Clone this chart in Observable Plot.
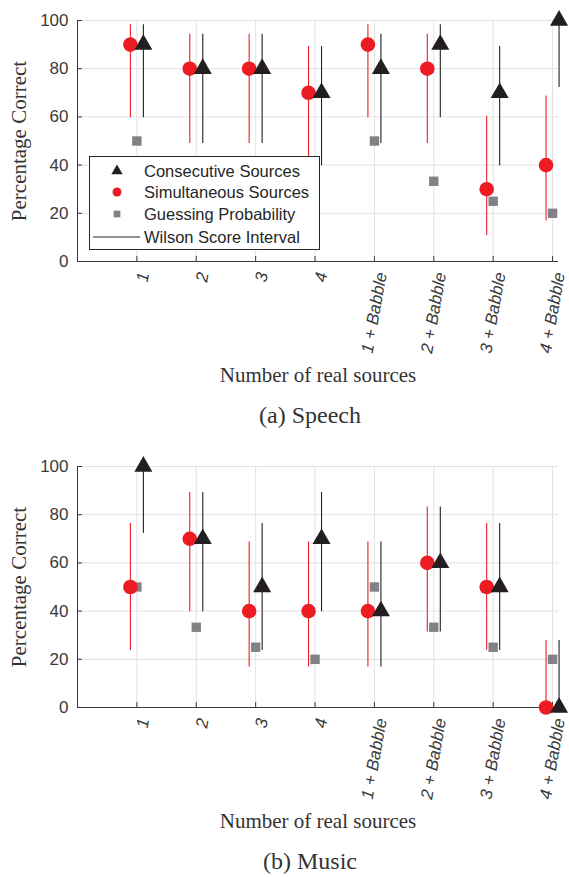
<!DOCTYPE html>
<html><head><meta charset="utf-8">
<script src="https://cdn.jsdelivr.net/npm/d3@7"></script>
<script src="https://cdn.jsdelivr.net/npm/@observablehq/plot@0.6"></script>
<style>
html,body{margin:0;padding:0;background:#fff;overflow:hidden;}
.panel{position:relative;width:569px;overflow:hidden;}
.panel svg.plot{display:block;}
.caption{position:absolute;left:310px;transform:translateX(-50%);font-family:"Liberation Serif","Times New Roman",serif;font-size:24px;color:#333;white-space:nowrap;line-height:30px;}
.legend{position:absolute;left:89px;top:156px;width:229px;height:92px;border:1px solid #262626;background:#fff;}
.legend svg{position:absolute;left:0;top:0;}
</style></head><body>
<div id="root"></div>
<script>
// ---- data ----
const categories = ["1", "2", "3", "4", "1 + Babble", "2 + Babble", "3 + Babble", "4 + Babble"];
const xPositions = [1, 2, 3, 4, 5, 6, 7, 8];
const yTicks = [0, 20, 40, 60, 80, 100];
const guessing = [50, 33.3, 25, 20, 50, 33.3, 25, 20];

const speechSim = [90, 80, 80, 70, 90, 80, 30, 40];
const speechSimLow = [59.6, 49.0, 49.0, 39.7, 59.6, 49.0, 10.8, 16.8];
const speechSimHigh = [98.2, 94.3, 94.3, 89.2, 98.2, 94.3, 60.3, 68.7];
const speechCon = [90, 80, 80, 70, 80, 90, 70, 100];
const speechConLow = [59.6, 49.0, 49.0, 39.7, 49.0, 59.6, 39.7, 72.2];
const speechConHigh = [98.2, 94.3, 94.3, 89.2, 94.3, 98.2, 89.2, 100];

const musicSim = [50, 70, 40, 40, 40, 60, 50, 0];
const musicSimLow = [23.7, 39.7, 16.8, 16.8, 16.8, 31.3, 23.7, 0];
const musicSimHigh = [76.3, 89.2, 68.7, 68.7, 68.7, 83.2, 76.3, 27.8];
const musicCon = [100, 70, 50, 70, 40, 60, 50, 0];
const musicConLow = [72.2, 39.7, 23.7, 39.7, 16.8, 31.3, 23.7, 0];
const musicConHigh = [100, 89.2, 76.3, 89.2, 68.7, 83.2, 76.3, 27.8];

const xLabel = "Number of real sources";
const yLabel = "Percentage Correct";
const legendLabels = ["Consecutive Sources", "Simultaneous Sources", "Guessing Probability", "Wilson Score Interval"];

// ---- styles ----
const RED = "#ED1C24", BLACK = "#231F20", GRAY = "#808285";
const AXIS = "#3a3a3a", TICK = "#3a3a3a", GRID = "#e2e2e2";
const SANS = "'Liberation Sans', Arial, Helvetica, sans-serif";
const SERIF = "'Liberation Serif', 'Times New Roman', serif";

function makePlot(sim, simLo, simHi, con, conLo, conHi) {
  const rows = xPositions.map((p, i) => ({
    p, cat: categories[i], sim: sim[i], simLo: simLo[i], simHi: simHi[i],
    con: con[i], conLo: conLo[i], conHi: conHi[i], guess: guessing[i]
  }));
  const svg = Plot.plot({
    width: 569, height: 400,
    marginLeft: 77, marginRight: 11, marginTop: 20, marginBottom: 139,
    x: {domain: [0, 8.1]},
    y: {domain: [0, 100]},
    style: {fontFamily: SANS, fontSize: "17px", color: AXIS, background: "transparent", overflow: "visible"},
    marks: [
      Plot.gridX(xPositions, {stroke: GRID, strokeOpacity: 1}),
      Plot.gridY(yTicks, {stroke: GRID, strokeOpacity: 1}),
      Plot.ruleX([0], {stroke: AXIS}),
      Plot.ruleY([0], {stroke: AXIS}),
      Plot.axisX(xPositions, {tickSize: -5, tickFormat: () => "", label: null, stroke: AXIS}),
      Plot.axisY(yTicks, {tickSize: -5, tickFormat: () => "", label: null, stroke: AXIS}),
      Plot.axisY(yTicks, {tickSize: 0, tickPadding: 9, label: null, fontSize: 17, fill: TICK}),
      Plot.text(rows, {x: "p", text: "cat", frameAnchor: "bottom", rotate: -80, textAnchor: "end",
        lineAnchor: "middle", dx: 7, dy: 11, fontStyle: "italic", fontSize: 17, fill: TICK}),
      Plot.text([xLabel], {text: d => d, frameAnchor: "bottom", dy: 114, lineAnchor: "middle",
        textAnchor: "middle", fontFamily: SERIF, fontSize: 21, fill: "#333"}),
      Plot.text([yLabel], {text: d => d, frameAnchor: "left", rotate: -90, dx: -58, lineAnchor: "middle",
        textAnchor: "middle", fontFamily: SERIF, fontSize: 21, fill: "#333"}),
      Plot.ruleX(rows, {x: "p", y1: "simLo", y2: "simHi", stroke: RED, strokeWidth: 1.1, dx: -6.5}),
      Plot.ruleX(rows, {x: "p", y1: "conLo", y2: "conHi", stroke: BLACK, strokeWidth: 1.1, dx: 6.5}),
      Plot.dot(rows, {x: "p", y: "guess", symbol: "square", r: 5.3, fill: GRAY}),
      Plot.dot(rows, {x: "p", y: "sim", r: 7.3, fill: RED, dx: -6.5}),
      Plot.dot(rows, {x: "p", y: "con", symbol: "triangle", r: 6.7, fill: BLACK, dx: 6.5})
    ]
  });
  svg.classList.add("plot");
  return svg;
}

function makeLegend() {
  const div = document.createElement("div");
  div.className = "legend";
  const ns = "http://www.w3.org/2000/svg";
  const s = document.createElementNS(ns, "svg");
  s.setAttribute("width", 229); s.setAttribute("height", 92);
  const rowsY = [14, 35, 57, 80];
  const tri = d3.symbol(d3.symbolTriangle, 55)();
  const sq = d3.symbol(d3.symbolSquare, 45)();
  let html = "";
  html += `<path d="${tri}" transform="translate(27,${rowsY[0]})" fill="${BLACK}"/>`;
  html += `<circle cx="27" cy="${rowsY[1]}" r="4.5" fill="${RED}"/>`;
  html += `<path d="${sq}" transform="translate(27,${rowsY[2]})" fill="${GRAY}"/>`;
  html += `<line x1="3" x2="50" y1="${rowsY[3]}" y2="${rowsY[3]}" stroke="${BLACK}" stroke-width="1"/>`;
  legendLabels.forEach((t, i) => {
    html += `<text x="54" y="${rowsY[i]}" dy="0.34em" font-family="${SANS.replace(/'/g, "")}" font-size="16.5" fill="#262626">${t}</text>`;
  });
  s.innerHTML = html;
  div.appendChild(s);
  return div;
}

function makePanel(height, plot, caption, withLegend) {
  const div = document.createElement("div");
  div.className = "panel";
  div.style.height = height + "px";
  div.appendChild(plot);
  if (withLegend) div.appendChild(makeLegend());
  const cap = document.createElement("div");
  cap.className = "caption";
  cap.style.top = "400px";
  cap.textContent = caption;
  div.appendChild(cap);
  return div;
}

const root = document.getElementById("root");
root.appendChild(makePanel(446, makePlot(speechSim, speechSimLow, speechSimHigh, speechCon, speechConLow, speechConHigh), "(a) Speech", true));
root.appendChild(makePanel(431, makePlot(musicSim, musicSimLow, musicSimHigh, musicCon, musicConLow, musicConHigh), "(b) Music", false));
</script>
</body></html>
